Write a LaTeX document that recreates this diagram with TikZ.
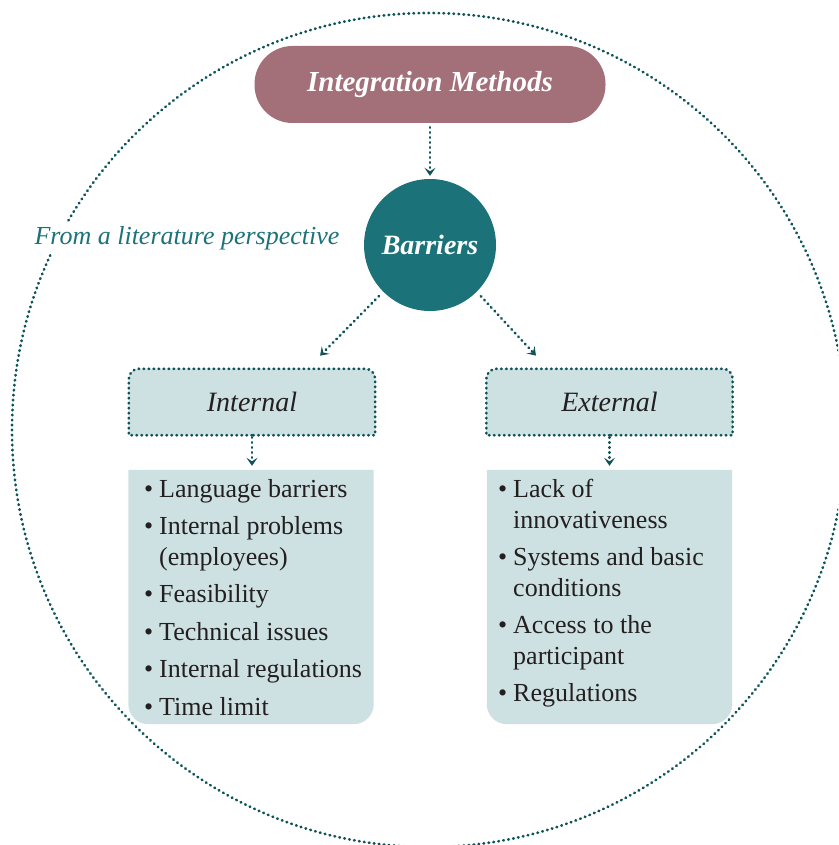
\documentclass[tikz,border=0pt]{standalone}
\usepackage{fontspec}
\setmainfont{Liberation Serif}
\usetikzlibrary{positioning,arrows.meta,backgrounds}
\definecolor{mauve}{HTML}{A3707A}
\definecolor{petrol}{HTML}{1C7279}
\definecolor{dotline}{HTML}{0D5358}
\definecolor{pale}{HTML}{CEE1E2}
\definecolor{ink}{HTML}{231F20}
\tikzset{
  dots/.style={draw=dotline, line width=2.7pt, line cap=round, dash pattern=on 0.6pt off 4.4pt},
  arr/.style={dots, -{Stealth[length=8pt,width=11pt,inset=3.5pt]}, shorten <=4pt, shorten >=3pt},
  pill/.style={fill=mauve, rounded corners=38pt, minimum width=351pt, minimum height=77pt, text=white, font=\fontsize{29}{34}\selectfont\bfseries\itshape},
  hub/.style={circle, fill=petrol, minimum size=132pt, inner sep=0pt, text=white, font=\fontsize{28}{32}\selectfont\bfseries\itshape},
  hdr/.style={minimum width=246pt, minimum height=66pt, inner sep=0pt, text=ink, font=\fontsize{28}{32}\selectfont\itshape},
  lst/.style={minimum width=245pt, minimum height=254pt, inner sep=0pt},
  items/.style={align=left, inner sep=0pt, anchor=north west, text=ink, font=\fontsize{26}{30.5}\selectfont},
  note/.style={fill=white, inner sep=3pt, text=petrol, font=\fontsize{26}{30}\selectfont\itshape}}
\newcommand{\itm}{\makebox[15pt][l]{\textbullet}}
\newcommand{\cont}{\hspace*{15pt}}

\begin{document}
\begin{tikzpicture}[x=1pt, y=-1pt]
\useasboundingbox (0,0) rectangle (838,845);
\clip (0,0) rectangle (838,845);
\draw[dots] (429,430) circle[radius=417pt];
\node[pill] (integ) at (430,84.5) {Integration Methods};
\node[hub] (bar) at (430,245) {Barriers};
\node[note] (lit) at (187,238) {From a literature perspective};
\node[hdr] (inthdr) at (252,402) {Internal};
\node[hdr] (exthdr) at (609.5,402) {External};
\node[lst] (intbox) at (251,597) {};
\node[lst] (extbox) at (609.5,597) {};
\node[items] (intitems) at (144,479) {\itm Language barriers\\[7pt]
  \itm Internal problems\\
  \cont (employees)\\[7pt]
  \itm Feasibility\\[7pt]
  \itm Technical issues\\[7pt]
  \itm Internal regulations\\[7pt]
  \itm Time limit};
\node[items] (extitems) at (498,479) {\itm Lack of\\
  \cont innovativeness\\[7pt]
  \itm Systems and basic\\
  \cont conditions\\[7pt]
  \itm Access to the\\
  \cont participant\\[7pt]
  \itm Regulations};
% box shapes behind the texts
\begin{scope}[on background layer]
\path[dots, fill=pale] (inthdr.south) -- (inthdr.south west) -- (inthdr.west) [rounded corners=10pt] -- (inthdr.north west) -- (inthdr.north east) -- (inthdr.east) [sharp corners] -- (inthdr.south east) -- cycle;
\path[dots, fill=pale] (exthdr.south) -- (exthdr.south west) -- (exthdr.west) [rounded corners=10pt] -- (exthdr.north west) -- (exthdr.north east) -- (exthdr.east) [sharp corners] -- (exthdr.south east) -- cycle;
\fill[pale] (intbox.north) -- (intbox.north east) -- (intbox.east) [rounded corners=20pt] -- (intbox.south east) -- (intbox.south west) -- (intbox.west) [sharp corners] -- (intbox.north west) -- cycle;
\fill[pale] (extbox.north) -- (extbox.north east) -- (extbox.east) [rounded corners=20pt] -- (extbox.south east) -- (extbox.south west) -- (extbox.west) [sharp corners] -- (extbox.north west) -- cycle;
\end{scope}
% connectors
\draw[arr] (integ) -- (bar);
\draw[arr, shorten <=6pt] (bar.south west) -- ([xshift=66pt,yshift=11pt]inthdr.north);
\draw[arr, shorten <=6pt] (bar.south east) -- ([xshift=-71.5pt,yshift=11pt]exthdr.north);
\draw[arr, shorten <=2pt, shorten >=4pt] (inthdr.south) -- (inthdr.south |- intbox.north);
\draw[arr, shorten <=2pt, shorten >=4pt] (exthdr.south) -- (exthdr.south |- extbox.north);
\end{tikzpicture}
\end{document}
